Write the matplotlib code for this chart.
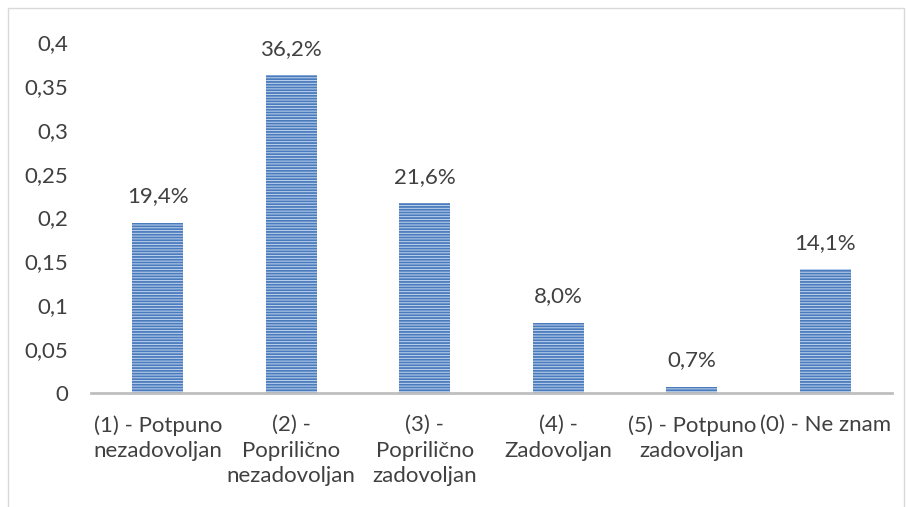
import matplotlib.pyplot as plt
from matplotlib.patches import Rectangle

categories = ['(1) - Potpuno\nnezadovoljan', '(2) -\nPopriljčno\nnezadovoljan'.replace('lj', 'li', 1),
              '(3) -\nPopriljčno\nzadovoljan'.replace('lj', 'li', 1), '(4) -\nZadovoljan',
              '(5) - Potpuno\nzadovoljan', '(0) - Ne znam']
values = [0.194, 0.362, 0.216, 0.080, 0.007, 0.141]
yticks = [0, 0.05, 0.1, 0.15, 0.2, 0.25, 0.3, 0.35, 0.4]

plt.rcParams['font.family'] = ['Lato', 'DejaVu Sans']
plt.rcParams['hatch.linewidth'] = 1.3
plt.rcParams['hatch.color'] = '#4a7cbd'
txt = '#404040'
fs = 16

fig = plt.figure(figsize=(9.09, 5.07), dpi=100)
ax = fig.add_axes([91 / 909, 1 - 393 / 507, 801 / 909, 351 / 507])

x = range(len(values))
ax.bar(x, values, width=0.38, color='#c2d4ee', edgecolor='#4a7cbd', linewidth=0, hatch='------')

for i, v in enumerate(values):
    ax.text(i, v + 0.019, f'{v*100:.1f}%'.replace('.', ','), ha='center', va='bottom',
            fontsize=fs, color=txt)

ax.set_xlim(-0.5, len(values) - 0.5)
ax.set_ylim(0, 0.4)
ax.set_yticks(yticks)
ax.set_yticklabels([f'{t:g}'.replace('.', ',') for t in yticks], fontsize=fs, color=txt)
ax.set_xticks(list(x))
ax.set_xticklabels(categories, fontsize=fs, color=txt, linespacing=1.34)
ax.tick_params(axis='both', length=0)
ax.tick_params(axis='y', pad=16.5)
ax.tick_params(axis='x', pad=16)
for s in ['top', 'right', 'left']:
    ax.spines[s].set_visible(False)
ax.spines['bottom'].set_color('#bfbfbf')
ax.spines['bottom'].set_linewidth(2)

fig.patches.append(Rectangle((8 / 909, -0.1), 896 / 909, 1.1 - 8 / 507, transform=fig.transFigure,
                             fill=False, edgecolor='#d9d9d9', linewidth=1))

fig.savefig('out.png', dpi=100)
